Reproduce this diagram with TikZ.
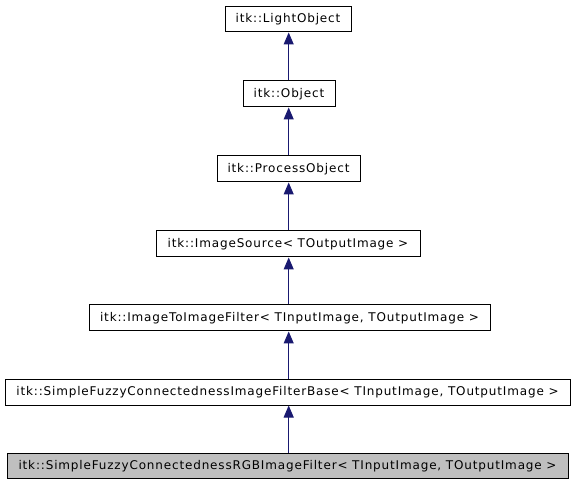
\documentclass[tikz,border=0pt]{standalone}
\usepackage{fontspec}
\setmainfont{DejaVu Sans}
\newfontfamily\boxfont[LetterSpace=7]{DejaVu Sans}
\usetikzlibrary{arrows.meta}
\definecolor{edgeblue}{HTML}{191970}
\definecolor{boxgray}{HTML}{BFBFBF}
\tikzset{
  cls/.style={draw=black, line width=0.75pt, rectangle, inner sep=0pt, font=\boxfont\fontsize{9pt}{11pt}\selectfont, text=black},
  inh/.style={draw=edgeblue, line width=0.75pt, -{Triangle[length=9pt,width=7.5pt]}, edgeblue}
}
\begin{document}
\begin{tikzpicture}[x=0.75pt,y=-0.75pt]
\useasboundingbox (0,0) rectangle (576,485);
\node[cls, minimum width=126*0.75pt, minimum height=25*0.75pt] (n1) at (288,19.5) {itk::LightObject};
\node[cls, minimum width=92*0.75pt, minimum height=26*0.75pt] (n2) at (289,94) {itk::Object};
\node[cls, minimum width=143*0.75pt, minimum height=26*0.75pt] (n3) at (288.5,169) {itk::ProcessObject};
\node[cls, minimum width=264*0.75pt, minimum height=26*0.75pt] (n4) at (288,244) {itk::ImageSource< TOutputImage >};
\node[cls, minimum width=401*0.75pt, minimum height=26*0.75pt] (n5) at (289.5,318) {itk::ImageToImageFilter< TInputImage, TOutputImage >};
\node[cls, minimum width=565*0.75pt, minimum height=26*0.75pt] (n6) at (287.5,392) {itk::SimpleFuzzyConnectednessImageFilterBase< TInputImage, TOutputImage >};
\node[cls, fill=boxgray, minimum width=561*0.75pt, minimum height=25*0.75pt] (n7) at (287.5,466) {itk::SimpleFuzzyConnectednessRGBImageFilter< TInputImage, TOutputImage >};
\draw[inh] (n2.north -| 288.7,0) -- (n1.south -| 288.7,0);
\draw[inh] (n3.north -| 288.7,0) -- (n2.south -| 288.7,0);
\draw[inh] (n4.north -| 288.7,0) -- (n3.south -| 288.7,0);
\draw[inh] (n5.north -| 288.7,0) -- (n4.south -| 288.7,0);
\draw[inh] (n6.north -| 288.7,0) -- (n5.south -| 288.7,0);
\draw[inh] (n7.north -| 288.7,0) -- (n6.south -| 288.7,0);
\end{tikzpicture}
\end{document}
